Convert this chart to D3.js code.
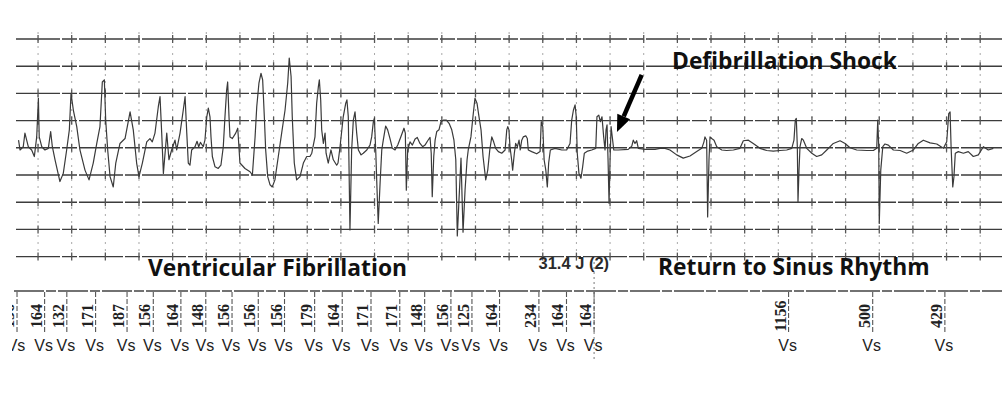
<!DOCTYPE html>
<html>
<head>
<meta charset="utf-8">
<script src="https://cdn.jsdelivr.net/npm/d3@7"></script>
<style>
  body { margin: 0; background: #fff; }
  svg { display: block; }
</style>
</head>
<body>
<svg id="strip"></svg>
<script>
// ECG strip: time in ms, amplitude in mV
const vfTrace = [
  [84,0.14],[93,-0.04],[112,0.02],[122,0.27],[142,0.02],[162,-0.04],[178,-0.16],[192,0.20],[202,0.91],[207,0.20],[222,0.02],[241,-0.04],[261,-0.01],[275,0.30],[285,0.02],[301,-0.22],[330,-0.62],[350,-0.47],[370,-0.04],[386,0.33],[396,1.00],[410,0.69],[430,0.39],[449,-0.04],[479,-0.41],[503,-0.59],[528,-0.28],[549,0.08],[568,0.39],[582,1.21],[594,1.25],[602,0.51],[614,-0.04],[628,-0.53],[647,-0.72],[662,-0.28],[687,0.08],[717,0.17],[747,0.66],[766,0.33],[786,-0.28],[800,-0.53],[820,-0.28],[846,0.11],[865,0.17],[879,0.11],[895,0.27],[915,0.76],[925,0.94],[935,0.27],[945,-0.47],[965,0.27],[978,-0.22],[994,-0.04],[1014,0.14],
  [1024,-0.04],[1044,0.27],[1063,0.69],[1074,0.94],[1084,0.27],[1093,-0.28],[1103,-0.32],[1113,-0.04],[1133,0.02],[1145,0.12],[1155,0.02],[1165,0.10],[1182,0.02],[1192,0.14],[1203,0.57],[1212,0.73],[1222,0.57],[1228,0.20],[1236,-0.16],[1252,-0.35],[1271,-0.38],[1287,-0.32],[1301,0.02],[1311,0.57],[1321,1.06],[1327,1.21],[1335,0.57],[1341,0.20],[1355,0.17],[1375,0.27],[1387,0.36],[1400,-0.28],[1430,-0.38],[1460,-0.44],[1474,-0.50],[1490,0.20],[1500,0.76],[1513,1.19],[1525,1.37],[1535,1.25],[1545,0.57],[1553,-0.04],[1565,-0.53],[1579,-0.68],[1592,-0.72],[1608,-0.59],[1628,-0.16],[1648,0.27],[1668,0.69],[1684,1.19],[1693,1.65],[1704,1.31],[1711,0.57],[1723,-0.28],[1737,-0.59],[1757,-0.53],[1777,-0.28],[1797,-0.16],[1816,-0.16],[1827,-0.10],[1846,0.20],[1856,0.82],[1866,1.12],[1872,1.25],[1880,0.88],[1886,0.33],[1896,0.08],[1906,0.27],[1912,-0.10],[1925,-0.28],[1941,-0.04],[1955,-0.22],[1975,-0.32],[1983,-0.28],[1995,0.02],
  [2014,0.57],[2029,0.82],[2036,0.88],[2044,0.57],[2054,-1.51],[2064,-0.04],[2074,0.51],[2084,0.66],[2094,0.27],[2104,-0.04],[2120,-0.13],[2133,-0.10],[2154,-0.04],[2173,0.05],[2183,0.20],[2193,0.48],[2199,0.54],[2207,-0.04],[2215,-0.78],[2222,-1.39],[2233,-0.65],[2243,-0.04],[2252,0.14],[2266,0.40],[2278,0.33],[2292,0.17],[2306,-0.01],[2322,-0.04],[2338,0.05],[2356,0.20],[2375,0.36],[2383,0.27],[2389,-0.78],[2397,-0.04],[2411,0.11],[2425,0.05],[2441,0.16],[2454,0.19],[2470,0.08],[2486,0.02],[2500,0.05],[2516,0.13],[2530,0.19],[2537,-0.10],[2543,-0.90],[2552,-0.16],[2560,0.14],[2570,0.30],[2583,0.33],[2595,0.48],[2611,0.51],[2627,0.51],[2643,0.45],[2659,0.33],[2672,0.14],[2683,-0.22],[2692,-1.62],[2702,-0.96],[2714,-0.19],[2726,-1.55],[2738,-0.78],[2750,-0.22],[2757,-0.04],[2773,0.20],[2785,0.57],[2797,0.91],[2809,0.82],[2821,0.57],[2833,0.33],[2845,-0.16],[2861,-0.59],[2873,-0.41],[2885,-0.04],[2897,0.20],[2908,0.11],[2920,-0.01],[2936,-0.07],
  [2956,-0.10],[2976,-0.04],[2986,0.33],[2992,0.39],[2999,0.33],[3005,0.02],[3015,-0.22],[3021,-0.41],[3031,-0.10],[3039,0.08],[3049,0.02],[3059,0.14],[3066,-0.04],[3075,0.14],[3084,0.20],[3099,0.22],[3108,0.17],[3114,-0.04],[3134,-0.07],[3164,-0.11],[3184,-0.07],[3191,0.48],[3200,0.39],[3208,-0.22],[3218,-0.41],[3227,-0.72],[3235,-0.28],[3245,-0.04],[3273,-0.01],[3313,-0.04],[3342,-0.04],[3362,0.08],[3372,0.51],[3382,0.69],[3392,0.79],[3399,0.57],[3405,-0.10],[3415,-0.47],[3427,-0.56],[3437,-0.35],[3447,-0.10],[3467,-0.06],[3491,-0.04],[3515,-0.01],[3522,0.57],[3533,0.60],[3542,0.48],[3552,0.57],[3562,0.20],[3570,-0.04],[3576,0.33],[3582,0.42],[3588,-0.22],[3594,-1.02],[3600,-0.22],[3606,0.39],[3613,0.20],[3622,-0.04]
];

const sinusTrace = [
  [3649,-0.04],[3708,-0.03],[3729,0.03],[3738,0.14],[3748,0.08],[3758,0.13],[3768,-0.01],[3808,-0.03],[3867,-0.03],[3897,-0.01],[3927,-0.01],[3956,-0.04],[3996,-0.13],[4035,-0.19],[4075,-0.15],[4115,-0.07],[4145,-0.01],[4158,0.11],[4164,0.20],[4174,0.14],[4180,-1.27],[4188,-0.22],[4194,0.20],[4204,0.17],[4218,0.14],[4234,0.02],[4264,-0.04],[4293,-0.05],[4333,-0.04],[4372,-0.01],[4392,0.13],[4422,0.14],[4451,0.08],[4491,-0.01],[4531,-0.05],[4570,-0.06],[4610,-0.05],[4650,-0.04],[4680,-0.01],[4693,0.14],[4701,0.51],[4707,0.54],[4713,0.02],[4717,-0.99],[4723,-0.41],[4729,0.02],[4739,0.17],[4749,0.14],[4769,-0.01],[4799,-0.10],[4828,-0.16],[4858,-0.13],[4888,-0.04],[4927,0.08],[4967,0.13],[4997,0.08],[5026,0.00],[5066,-0.04],[5126,-0.05],[5165,-0.05],[5185,-0.01],[5191,0.51],[5197,0.02],[5200,-1.39],[5209,-0.41],[5221,0.02],[5234,0.07],[5254,0.05],[5284,-0.04],[5324,-0.05],[5363,-0.10],[5403,-0.04],[5432,0.08],[5462,0.14],[5502,0.09],[5542,0.07],[5581,-0.01],[5601,0.11],[5613,0.63],[5621,0.66],[5627,0.02],[5637,-0.72],[5644,-0.53],[5652,-0.10],[5670,-0.07],[5700,-0.10],[5729,-0.07],[5759,-0.16],[5789,-0.13],[5819,0.02],[5848,-0.04],[5878,-0.01]
];

// Vs marker intervals (ms); first one is cut off at the paper edge
const firstMarkerMs = 75;
const intervals = [156, 164, 132, 171, 187, 156, 164, 148, 156, 156, 156, 179, 164, 171, 171, 148, 156, 125, 164, 234, 164, 164, 1156, 500, 429];
const shockMarkerIndex = 21;
const shockLabel = '31.4 J (2)';

const width = 1004;
const height = 400;

const svg = d3.select('#strip')
  .attr('width', width)
  .attr('height', height);

const x = d3.scaleLinear().domain([0, 5800]).range([4.4, 980.2]);
const y = d3.scaleLinear().domain([-2, 2]).range([256.6, 39]);

const gridTimes = d3.range(200, 5801, 200);
const gridMv = d3.range(-2, 2.01, 0.5);

// grid
const grid = svg.append('g');
grid.selectAll('.vline')
  .data(gridTimes)
  .enter()
  .append('line')
  .attr('class', 'vline')
  .attr('x1', d => x(d)).attr('x2', d => x(d))
  .attr('y1', 32).attr('y2', 260)
  .attr('stroke', '#a8a8a8')
  .attr('stroke-width', 1)
  .attr('stroke-dasharray', '2,5');

grid.selectAll('.hline')
  .data(gridMv)
  .enter()
  .append('line')
  .attr('class', 'hline')
  .attr('x1', 16).attr('x2', 1002)
  .attr('y1', d => y(d)).attr('y2', d => y(d))
  .attr('stroke', '#3c3c3c')
  .attr('stroke-width', 1.4)
  .attr('stroke-dasharray', '44,2,15,2');

const crosses = d3.cross(gridTimes, gridMv);
grid.selectAll('.tick')
  .data(crosses)
  .enter()
  .append('line')
  .attr('x1', d => x(d[0])).attr('x2', d => x(d[0]))
  .attr('y1', d => y(d[1]) - 4).attr('y2', d => y(d[1]) + 4)
  .attr('stroke', '#555')
  .attr('stroke-width', 1.3);

// ECG trace
const line = d3.line()
  .x(d => x(d[0]))
  .y(d => y(d[1]));

svg.append('path')
  .datum(vfTrace.concat(sinusTrace))
  .attr('d', line)
  .attr('fill', 'none')
  .attr('stroke', '#3a3a3a')
  .attr('stroke-width', 1.2)
  .attr('stroke-linejoin', 'round');

// arrow to the shock
const tail = [x(3788), y(1.34)];
const tip = [x(3641), y(0.29)];
const ang = Math.atan2(tip[1] - tail[1], tip[0] - tail[0]);
const headLen = 17;
const headW = 7;
const base = [tip[0] - headLen * Math.cos(ang), tip[1] - headLen * Math.sin(ang)];
svg.append('line')
  .attr('x1', tail[0]).attr('y1', tail[1])
  .attr('x2', base[0]).attr('y2', base[1])
  .attr('stroke', '#000')
  .attr('stroke-width', 4.5);
svg.append('path')
  .attr('d', `M${tip[0]},${tip[1]}L${base[0] - headW * Math.sin(ang)},${base[1] + headW * Math.cos(ang)}L${base[0] + headW * Math.sin(ang)},${base[1] - headW * Math.cos(ang)}Z`)
  .attr('fill', '#000');

// titles
const titleFont = "'Open Sans', sans-serif";
const titleSize = 22.8;
const titles = [
  { text: 'Defibrillation Shock', x: 672, y: 69 },
  { text: 'Ventricular Fibrillation', x: 148, y: 276 },
  { text: 'Return to Sinus Rhythm', x: 658, y: 275 }
];
svg.selectAll('.title')
  .data(titles)
  .enter()
  .append('text')
  .attr('class', 'title')
  .attr('x', d => d.x).attr('y', d => d.y)
  .attr('font-family', titleFont).attr('font-weight', 700).attr('font-size', titleSize)
  .attr('fill', '#111')
  .text(d => d.text);

// marker annotation strip
const markerTimes = intervals.map((v, i) => firstMarkerMs + d3.sum(intervals.slice(1, i + 1)));

const strip = svg.append('g');
strip.append('clipPath').attr('id', 'paper')
  .append('rect').attr('x', 12).attr('y', 0).attr('width', width).attr('height', height);
const marks = strip.append('g').attr('clip-path', 'url(#paper)');

marks.append('line')
  .attr('x1', 14).attr('x2', 1002)
  .attr('y1', 291).attr('y2', 291)
  .attr('stroke', '#444')
  .attr('stroke-width', 1.3)
  .attr('stroke-dasharray', '30,2,10,2');

const shockX = x(markerTimes[shockMarkerIndex]);
marks.append('line')
  .attr('x1', shockX).attr('x2', shockX)
  .attr('y1', 262).attr('y2', 362)
  .attr('stroke', '#777')
  .attr('stroke-width', 1)
  .attr('stroke-dasharray', '2,3');

svg.append('text')
  .attr('x', shockX + 15).attr('y', 269)
  .attr('text-anchor', 'end')
  .attr('font-family', "'Liberation Sans Narrow', 'Arial Narrow', sans-serif")
  .attr('font-size', 16.5)
  .attr('font-weight', 700)
  .attr('fill', '#2a2a2a')
  .text(shockLabel);

const mk = marks.selectAll('.marker')
  .data(intervals)
  .enter()
  .append('g')
  .attr('class', 'marker')
  .attr('transform', (d, i) => `translate(${x(markerTimes[i])},0)`);

mk.append('line')
  .attr('y1', 292).attr('y2', 332)
  .attr('stroke', '#555')
  .attr('stroke-width', 1.1)
  .attr('stroke-dasharray', '5,2');

mk.append('text')
  .attr('transform', 'translate(-3,316) rotate(-90)')
  .attr('text-anchor', 'middle')
  .attr('font-family', "'Liberation Serif', serif")
  .attr('font-size', 16)
  .attr('font-weight', 700)
  .attr('fill', '#222')
  .text(d => d);

mk.append('text')
  .attr('x', -1).attr('y', 351)
  .attr('text-anchor', 'middle')
  .attr('font-family', "'Liberation Sans', Arial, sans-serif")
  .attr('font-size', 16)
  .attr('fill', '#222')
  .text('Vs');
</script>
</body>
</html>
